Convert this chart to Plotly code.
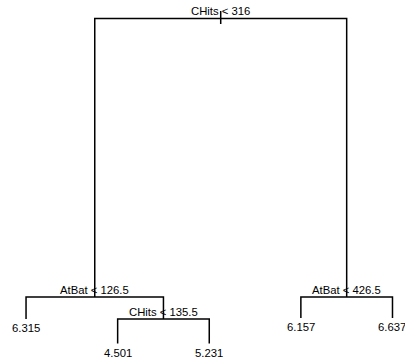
import plotly.graph_objects as go

# Tree structure (R tree numbering): node id -> children are 2n, 2n+1
node_ids = [1, 2, 3, 4, 5, 6, 7, 10, 11]
split_labels = {1: "CHits < 316", 2: "AtBat < 126.5", 3: "AtBat < 426.5", 5: "CHits < 135.5"}
leaf_values = {4: "6.315", 10: "4.501", 11: "5.231", 6: "6.157", 7: "6.637"}
# node deviances (proportional heights as in plot.tree)
node_dev = {1: 205.1, 2: 37.3, 3: 56.4, 4: 5.0, 5: 23.5, 6: 30.0, 7: 18.0, 10: 4.5, 11: 9.2}

# --- compute coordinates like R's treeco ---
leaf_order = []
def walk(n):
    if n in leaf_values:
        leaf_order.append(n)
    else:
        walk(2 * n); walk(2 * n + 1)
walk(1)

X = {}
for i, n in enumerate(leaf_order):
    X[n] = i + 1
def setx(n):
    if n in X:
        return X[n]
    X[n] = (setx(2 * n) + setx(2 * n + 1)) / 2
    return X[n]
setx(1)

Y = {1: node_dev[1]}
def sety(n):
    if n in leaf_values:
        return
    l, r = 2 * n, 2 * n + 1
    yc = Y[n] - (node_dev[n] - node_dev[l] - node_dev[r])
    Y[l] = yc; Y[r] = yc
    sety(l); sety(r)
sety(1)

xs, ys = [], []
# root stub
xs += [X[1], X[1], None]; ys += [Y[1] + 3.0, Y[1] - 2.2, None]
for n in split_labels:
    l, r = 2 * n, 2 * n + 1
    # horizontal bar plus vertical drops to children
    xs += [X[l], X[l], X[r], X[r], None]
    ys += [Y[l], Y[n], Y[n], Y[r], None]

fig = go.Figure()
fig.add_trace(go.Scatter(x=xs, y=ys, mode="lines",
                         line=dict(color="black", width=1.5),
                         hoverinfo="skip", showlegend=False))

font = dict(family="Liberation Sans, Arial, sans-serif", size=11.3, color="black")
for n, lab in split_labels.items():
    fig.add_annotation(x=X[n], y=Y[n], text=lab, showarrow=False,
                       yanchor="middle", xanchor="center", yshift=7.5, font=font)
for n, lab in leaf_values.items():
    fig.add_annotation(x=X[n], y=Y[n], text=lab, showarrow=False,
                       yanchor="middle", xanchor="center", yshift=-9, font=font)

fig.update_layout(
    width=405, height=361,
    margin=dict(l=0, r=0, t=0, b=0),
    paper_bgcolor="white", plot_bgcolor="white",
    xaxis=dict(range=[0.7158, 5.1366], visible=False, fixedrange=True),
    yaxis=dict(range=[68.1, 212.5], visible=False, fixedrange=True),
)
fig.write_html("out.html")
